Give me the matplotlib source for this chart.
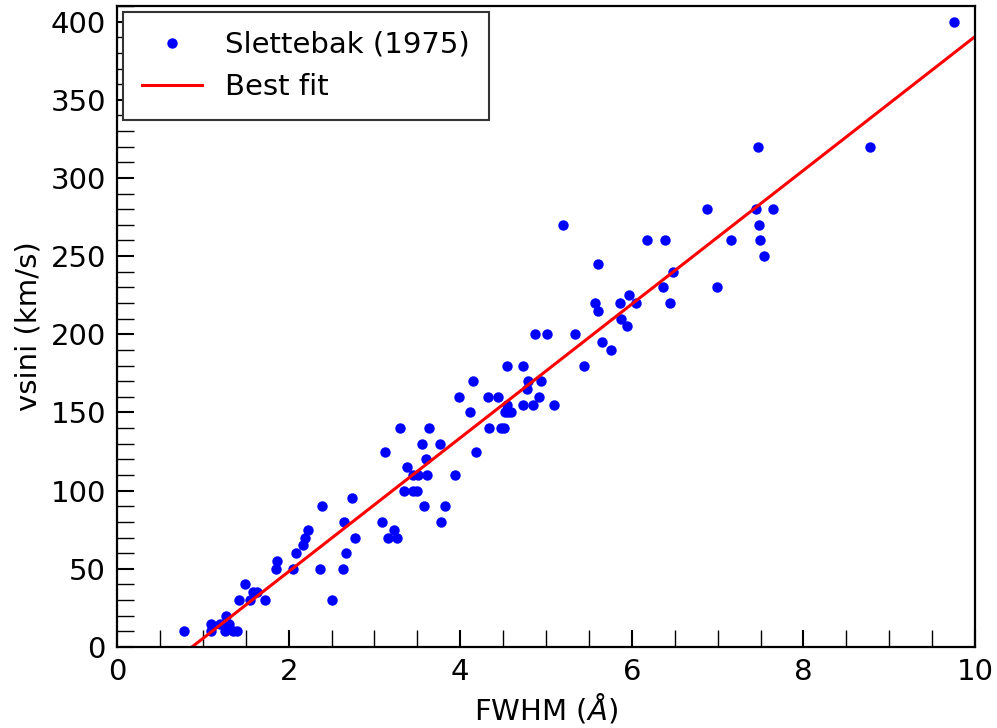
import numpy as np
import matplotlib
matplotlib.use("Agg")
import matplotlib.pyplot as plt
from matplotlib.ticker import MultipleLocator

# Slettebak (1975): line width vs. projected rotational velocity
fwhm = [0.78, 1.09, 1.10, 1.20, 1.27, 1.31, 1.255, 1.35, 1.40, 1.42,
        1.49, 1.55, 1.585, 1.635, 1.72, 1.85, 1.87, 2.05, 2.09, 2.17,
        2.195, 2.23, 2.39, 2.37, 2.51, 2.63, 2.65, 2.67, 2.74, 2.77,
        3.085, 3.12, 3.155, 3.23, 3.26, 3.30, 3.34, 3.375, 3.45, 3.50,
        3.45, 3.51, 3.61, 3.55, 3.575, 3.60, 3.64, 3.76, 3.78, 3.82,
        3.94, 3.99, 4.11, 4.145, 4.18, 4.32, 4.33, 4.44, 4.47, 4.51,
        4.545, 4.52, 4.56, 4.59, 4.55, 4.73, 4.73, 4.79, 4.78, 4.85,
        4.92, 4.94, 4.87, 5.01, 5.09, 5.20, 5.34, 5.44, 5.57, 5.60,
        5.61, 5.65, 5.76, 5.86, 5.87, 5.94, 5.97, 6.05, 6.18, 6.36,
        6.39, 6.44, 6.48, 6.87, 6.99, 7.15, 7.45, 7.47, 7.48, 7.49,
        7.54, 7.65, 8.78, 9.76]
vsini = [10, 10, 15, 15, 20, 15, 10, 10, 10, 30,
         40, 30, 35, 35, 30, 50, 55, 50, 60, 65,
         70, 75, 90, 50, 30, 50, 80, 60, 95, 70,
         80, 125, 70, 75, 70, 140, 100, 115, 100, 100,
         110, 110, 110, 130, 90, 120, 140, 130, 80, 90,
         110, 160, 150, 170, 125, 160, 140, 160, 140, 140,
         180, 150, 150, 150, 155, 180, 155, 170, 165, 155,
         160, 170, 200, 200, 155, 270, 200, 180, 220, 215,
         245, 195, 190, 220, 210, 205, 225, 220, 260, 230,
         260, 220, 240, 280, 230, 260, 280, 320, 270, 260,
         250, 280, 320, 400]

x = np.array(fwhm)
y = np.array(vsini)
slope, intercept = np.polyfit(x, y, 1)

FS = 21

fig = plt.figure(figsize=(9.97, 7.28), dpi=100)
ax = fig.add_axes([0.1174, 0.1113, 0.8606, 0.8805])

ax.plot(x, y, 'o', color='blue', ms=7.5, mec='blue', mew=0,
        label='Slettebak (1975)')
xf = np.array([0.0, 10.0])
ax.plot(xf, slope * xf + intercept, '-', color='red', lw=2.2, label='Best fit')

ax.set_xlim(0, 10)
ax.set_ylim(0, 410)
ax.xaxis.set_major_locator(MultipleLocator(2))
ax.xaxis.set_minor_locator(MultipleLocator(0.5))
ax.yaxis.set_major_locator(MultipleLocator(50))
ax.yaxis.set_minor_locator(MultipleLocator(10))
ax.tick_params(which='both', direction='in', length=12, labelsize=FS,
               top=False, right=False, pad=8)
ax.tick_params(which='major', width=1.5)
ax.tick_params(which='minor', width=1.0)
for s in ax.spines.values():
    s.set_linewidth(1.6)

ax.set_xlabel(r'FWHM ($\AA$)', fontsize=FS, labelpad=4)
ax.set_ylabel('vsini (km/s)', fontsize=FS, labelpad=6)

leg = ax.legend(loc='upper left', fontsize=FS, fancybox=False,
                borderaxespad=0.2, borderpad=0.65, numpoints=1,
                handlelength=2.05, framealpha=1.0)
leg.get_frame().set_edgecolor('#333333')
leg.get_frame().set_linewidth(1.5)

fig.savefig('out.png', dpi=100)
